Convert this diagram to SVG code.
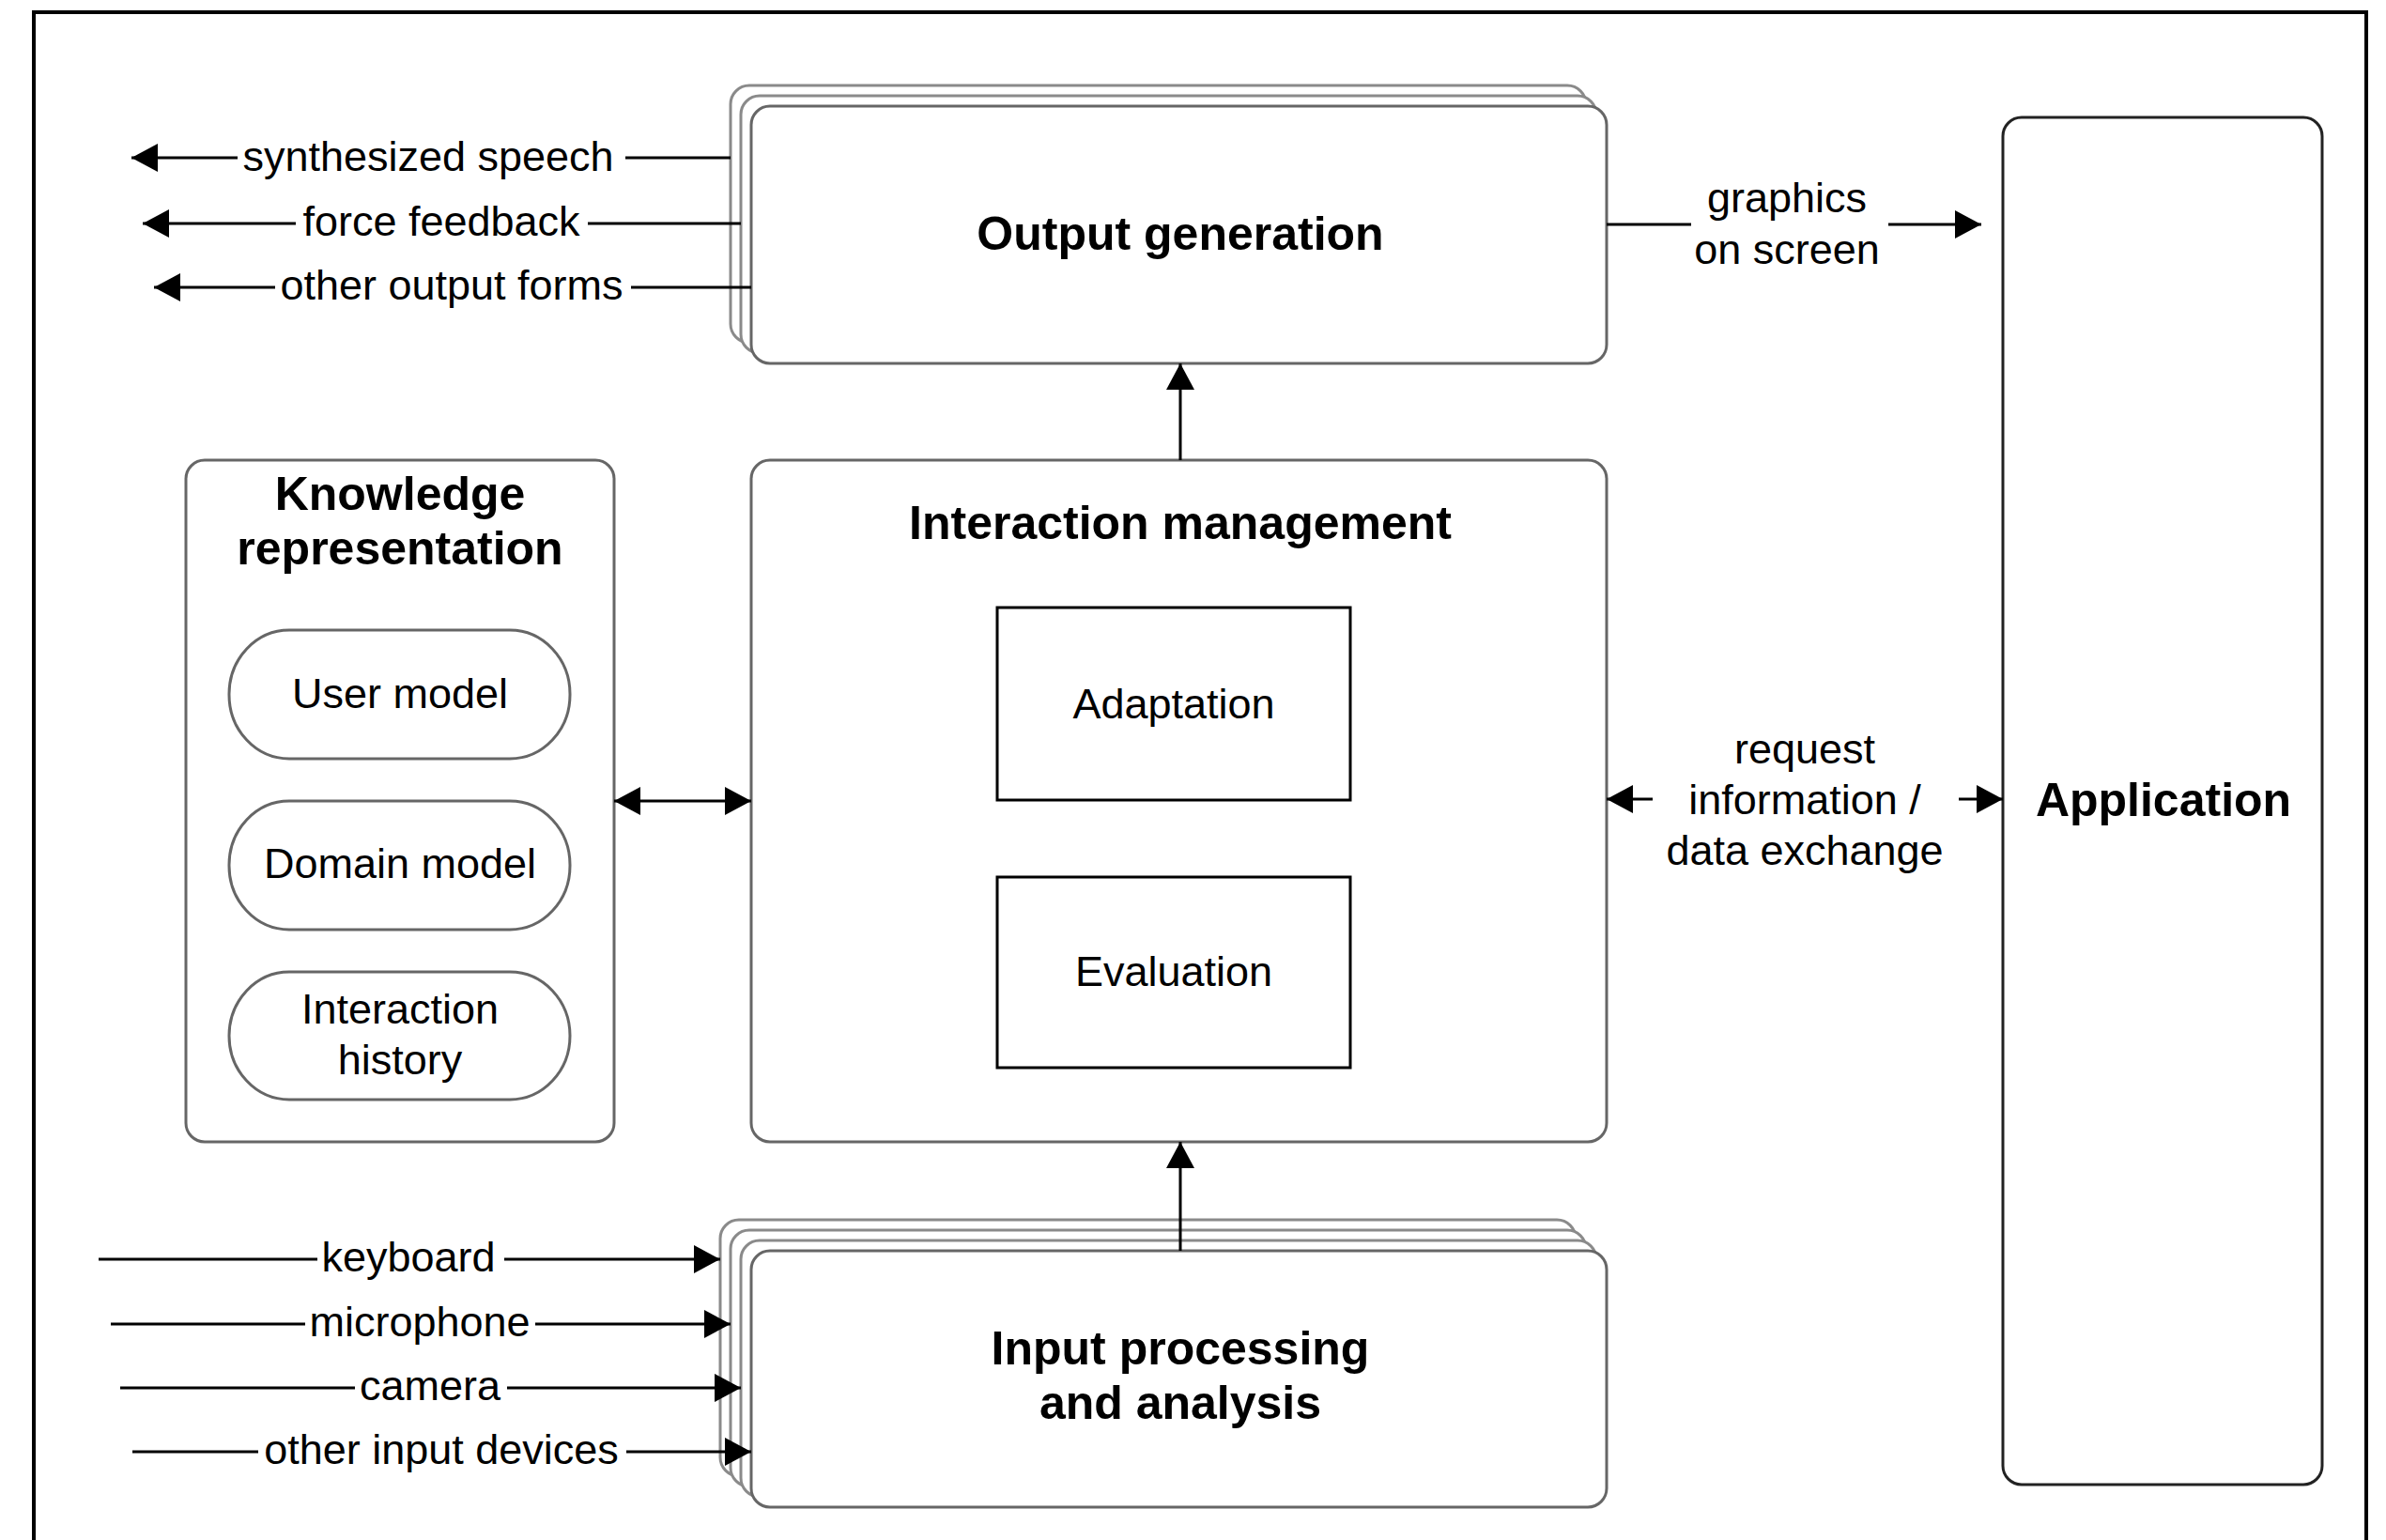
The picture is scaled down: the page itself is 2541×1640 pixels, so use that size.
<svg xmlns="http://www.w3.org/2000/svg" width="2541" height="1640" viewBox="0 0 2541 1640">
<style>
  .t { font-family: "Liberation Sans", Arial, sans-serif; font-size: 45px; fill: #000; }
  .b { font-family: "Liberation Sans", Arial, sans-serif; font-size: 50px; font-weight: bold; fill: #000; }
  .m { text-anchor: middle; }
  .box { fill: #fff; stroke: #666; stroke-width: 3; }
  .stack { fill: #fff; stroke: #8a8a8a; stroke-width: 3; }
  .sq { fill: #fff; stroke: #000; stroke-width: 3; }
  .ln { fill: none; stroke: #000; stroke-width: 3; }
</style>
<defs>
  <marker id="ah" markerUnits="userSpaceOnUse" markerWidth="30" markerHeight="30" refX="28" refY="15" orient="auto-start-reverse">
    <path d="M0,0 L28,15 L0,30 Z" fill="#000"/>
  </marker>
</defs>
<rect width="2541" height="1640" fill="#fff"/>
<rect id="frame" x="36" y="13" width="2484" height="1700" fill="none" stroke="#000" stroke-width="4"/>

<g id="output-generation">
  <rect class="stack" x="778" y="91" width="911" height="274" rx="20"/>
  <rect class="stack" x="789" y="102" width="911" height="274" rx="20"/>
  <rect class="box" x="800" y="113" width="911" height="274" rx="20"/>
  <text class="b m" x="1257" y="266">Output generation</text>
</g>

<g id="knowledge-representation">
  <rect class="box" x="198" y="490" width="456" height="726" rx="20"/>
  <text class="b m" x="426" y="543">Knowledge</text>
  <text class="b m" x="426" y="601">representation</text>
  <g id="user-model">
    <rect class="box" x="244" y="671" width="363" height="137" rx="64" ry="68"/>
    <text class="t m" x="426" y="754">User model</text>
  </g>
  <g id="domain-model">
    <rect class="box" x="244" y="853" width="363" height="137" rx="64" ry="68"/>
    <text class="t m" x="426" y="935">Domain model</text>
  </g>
  <g id="interaction-history">
    <rect class="box" x="244" y="1035" width="363" height="136" rx="64" ry="68"/>
    <text class="t m" x="426" y="1090">Interaction</text>
    <text class="t m" x="426" y="1144">history</text>
  </g>
</g>

<g id="interaction-management">
  <rect class="box" x="800" y="490" width="911" height="726" rx="20"/>
  <text class="b m" x="1257" y="574">Interaction management</text>
  <g id="adaptation">
    <rect class="sq" x="1062" y="647" width="376" height="205"/>
    <text class="t m" x="1250" y="765">Adaptation</text>
  </g>
  <g id="evaluation">
    <rect class="sq" x="1062" y="934" width="376" height="203"/>
    <text class="t m" x="1250" y="1050">Evaluation</text>
  </g>
</g>

<g id="input-processing">
  <rect class="stack" x="767" y="1299" width="911" height="273" rx="20"/>
  <rect class="stack" x="778" y="1310" width="911" height="273" rx="20"/>
  <rect class="stack" x="789" y="1321" width="911" height="273" rx="20"/>
  <rect class="box" x="800" y="1332" width="911" height="273" rx="20"/>
  <text class="b m" x="1257" y="1453">Input processing</text>
  <text class="b m" x="1257" y="1511">and analysis</text>
</g>

<g id="application">
  <rect class="box" x="2133" y="125" width="340" height="1456" rx="20" style="stroke:#222"/>
  <text class="b m" x="2304" y="869">Application</text>
</g>

<g id="connectors">
  <!-- outputs -->
  <line class="ln" x1="253" y1="168" x2="140" y2="168" marker-end="url(#ah)"/>
  <line class="ln" x1="666" y1="168" x2="778" y2="168"/>
  <text class="t m" x="456" y="182">synthesized speech</text>

  <line class="ln" x1="315" y1="238" x2="152" y2="238" marker-end="url(#ah)"/>
  <line class="ln" x1="626" y1="238" x2="789" y2="238"/>
  <text class="t m" x="470" y="251">force feedback</text>

  <line class="ln" x1="293" y1="306" x2="164" y2="306" marker-end="url(#ah)"/>
  <line class="ln" x1="672" y1="306" x2="800" y2="306"/>
  <text class="t m" x="481" y="319">other output forms</text>

  <!-- graphics on screen -->
  <line class="ln" x1="1711" y1="239" x2="1801" y2="239"/>
  <line class="ln" x1="2011" y1="239" x2="2110" y2="239" marker-end="url(#ah)"/>
  <text class="t m" x="1903" y="226">graphics</text>
  <text class="t m" x="1903" y="281">on screen</text>

  <!-- vertical flows -->
  <line class="ln" x1="1257" y1="490" x2="1257" y2="387" marker-end="url(#ah)"/>
  <line class="ln" x1="1257" y1="1332" x2="1257" y2="1216" marker-end="url(#ah)"/>

  <!-- knowledge <-> interaction -->
  <line class="ln" x1="654" y1="853" x2="800" y2="853" marker-start="url(#ah)" marker-end="url(#ah)"/>

  <!-- request information -->
  <line class="ln" x1="1760" y1="851" x2="1711" y2="851" marker-end="url(#ah)"/>
  <line class="ln" x1="2086" y1="851" x2="2133" y2="851" marker-end="url(#ah)"/>
  <text class="t m" x="1922" y="813">request</text>
  <text class="t m" x="1922" y="867">information /</text>
  <text class="t m" x="1922" y="921">data exchange</text>

  <!-- inputs -->
  <line class="ln" x1="105" y1="1341" x2="338" y2="1341"/>
  <line class="ln" x1="537" y1="1341" x2="767" y2="1341" marker-end="url(#ah)"/>
  <text class="t m" x="435" y="1354">keyboard</text>

  <line class="ln" x1="118" y1="1410" x2="325" y2="1410"/>
  <line class="ln" x1="570" y1="1410" x2="778" y2="1410" marker-end="url(#ah)"/>
  <text class="t m" x="447" y="1423">microphone</text>

  <line class="ln" x1="128" y1="1478" x2="378" y2="1478"/>
  <line class="ln" x1="540" y1="1478" x2="789" y2="1478" marker-end="url(#ah)"/>
  <text class="t m" x="458" y="1491">camera</text>

  <line class="ln" x1="141" y1="1546" x2="275" y2="1546"/>
  <line class="ln" x1="667" y1="1546" x2="800" y2="1546" marker-end="url(#ah)"/>
  <text class="t m" x="470" y="1559">other input devices</text>
</g>
</svg>
